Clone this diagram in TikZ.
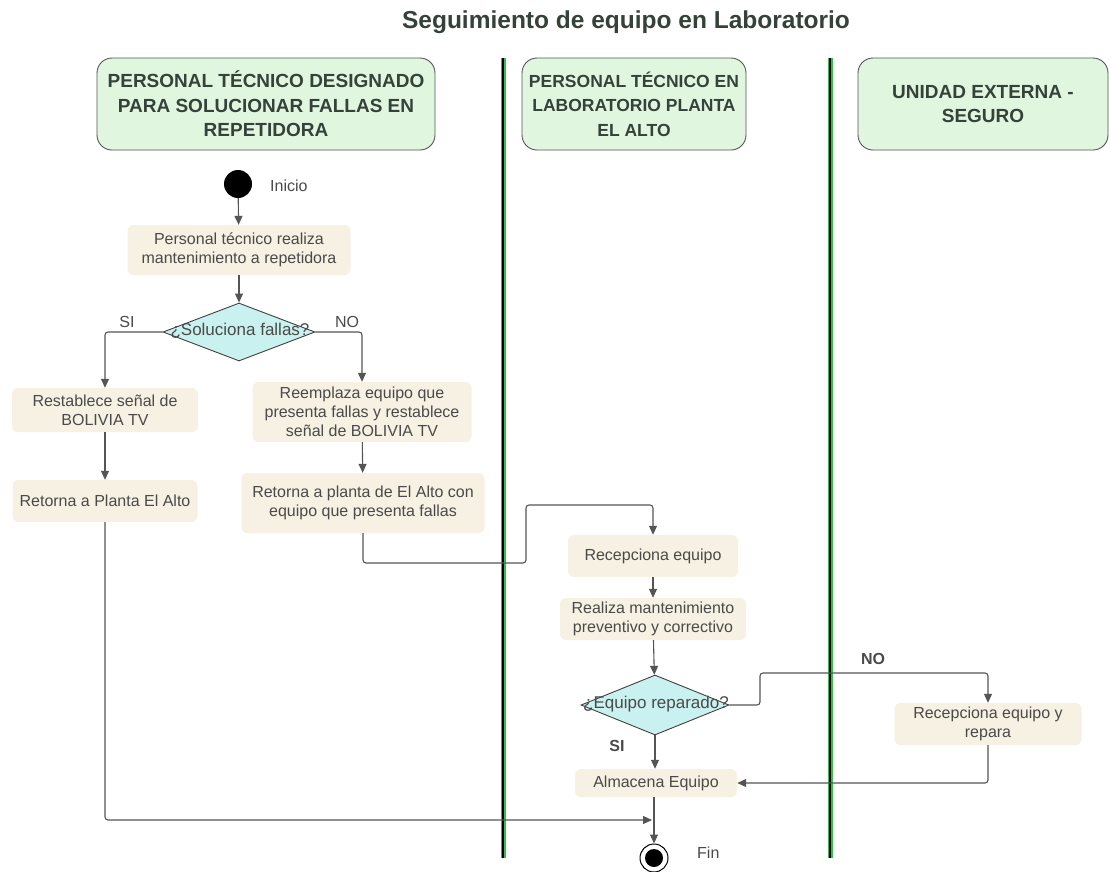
\documentclass[tikz,border=0pt]{standalone}
\usepackage{fontspec}
\setmainfont{Liberation Sans}
\usetikzlibrary{arrows.meta,shapes.geometric}
\definecolor{boxfill}{HTML}{F6F1E3}
\definecolor{headfill}{HTML}{E1F6DF}
\definecolor{decfill}{HTML}{C9F1EF}
\definecolor{txt}{HTML}{4A4A4A}
\definecolor{headtxt}{HTML}{34423A}
\definecolor{wire}{HTML}{555555}
\definecolor{lanegreen}{HTML}{3DBA4E}
\tikzset{
  act/.style={fill=boxfill, rounded corners=6pt, text=txt, align=center,
    font=\fontsize{16}{19}\selectfont, inner sep=0pt},
  lanehead/.style={fill=headfill, draw=wire, line width=0.9pt, rounded corners=15pt,
    text=headtxt, align=center, font=\bfseries\fontsize{19}{24.5}\selectfont, inner sep=0pt},
  decision/.style={diamond, fill=decfill, draw=black!75, line width=0.9pt,
    inner sep=0pt},
  dectext/.style={text=txt, font=\fontsize{17}{20}\selectfont, inner sep=0pt},
  flow/.style={draw=wire, line width=1.1pt, rounded corners=3pt,
    -{Triangle[length=9pt,width=8pt]}},
  lbl/.style={text=txt, font=\fontsize{16}{19}\selectfont, inner sep=0pt},
  blbl/.style={text=txt, font=\bfseries\fontsize{16}{19}\selectfont, inner sep=0pt},
}
\begin{document}
\begin{tikzpicture}[x=1pt,y=-1pt]
\useasboundingbox (0,0) rectangle (1111,871);
\fill[white] (0,0) rectangle (1111,871);

% title
\node[text=headtxt, font=\bfseries\fontsize{24.5}{28}\selectfont] (title) at (626,22) {Seguimiento de equipo en Laboratorio};

% lane separators
\foreach \lx in {503, 830}{
  \draw[lanegreen, line width=5pt] (\lx,58) -- (\lx,858);
  \draw[black, line width=2.6pt] (\lx,58) -- (\lx,858);
}

% lane headers
\node[lanehead, minimum width=338pt, minimum height=92pt] (h1) at (266,104)
  {PERSONAL TÉCNICO DESIGNADO\\PARA SOLUCIONAR FALLAS EN\\REPETIDORA};
\node[lanehead, minimum width=224pt, minimum height=92pt, font=\bfseries\fontsize{17.5}{24.5}\selectfont] (h2) at (634,104)
  {PERSONAL TÉCNICO EN\\LABORATORIO PLANTA\\EL ALTO};
\node[lanehead, minimum width=250pt, minimum height=92pt] (h3) at (983,104)
  {UNIDAD EXTERNA -\\SEGURO};

% start
\node[circle, fill=black, minimum size=28pt, inner sep=0pt] (start) at (238,184) {};
\node[lbl, anchor=west] (startlbl) at (270,186) {Inicio};

% first lane
\node[act, minimum width=223pt, minimum height=50pt] (b1) at (239,250)
  {Personal técnico realiza\\mantenimiento a repetidora};
\node[decision, minimum width=152pt, minimum height=58pt] (d1) at (239,332) {};
\node[dectext] (d1t) at (240,331) {¿Soluciona fallas?};
\node[lbl] (si1) at (127,322) {SI};
\node[lbl] (no1) at (347,322) {NO};
\node[act, minimum width=186pt, minimum height=44pt] (b2) at (105,410)
  {Restablece señal de\\BOLIVIA TV};
\node[act, minimum width=185pt, minimum height=42pt] (b3) at (105,501)
  {Retorna a Planta El Alto};
\node[act, minimum width=219pt, minimum height=60pt] (b4) at (362,412)
  {Reemplaza equipo que\\presenta fallas y restablece\\señal de BOLIVIA TV};
\node[act, minimum width=243pt, minimum height=60pt] (b5) at (363,503)
  {Retorna a planta de El Alto con\\equipo que presenta fallas};

% second lane
\node[act, minimum width=170pt, minimum height=42pt] (c1) at (653,556) {Recepciona equipo};
\node[act, minimum width=186pt, minimum height=42pt] (c2) at (653,619)
  {Realiza mantenimiento\\preventivo y correctivo};
\node[decision, minimum width=148pt, minimum height=60pt] (d2) at (655,705) {};
\node[dectext] (d2t) at (656,704) {¿Equipo reparado?};
\node[blbl] (si2) at (617,746) {SI};
\node[act, minimum width=162pt, minimum height=28pt] (c4) at (656,783) {Almacena Equipo};
\node[circle, draw=black, line width=1pt, minimum size=28pt, inner sep=0pt] (fin) at (654,858) {};
\fill[black] (fin.center) circle (9pt);
\node[lbl, anchor=west] (finlbl) at (697,853) {Fin};

% third lane
\node[blbl] (no2) at (873,659) {NO};
\node[act, minimum width=187pt, minimum height=42pt] (e1) at (988,724)
  {Recepciona equipo y\\repara};

% junction points
\coordinate (jA) at (526,563);
\coordinate (jB) at (526,505);
\coordinate (jC) at (760,673);
\coordinate (jD) at (652,820);

% connectors
\draw[flow] (start) -- (b1);
\draw[flow] (b1) -- (d1);
\draw[flow] (d1.west) -| (b2.north);
\draw[flow] (d1.east) -| (b4.north);
\draw[flow] (b2) -- (b3);
\draw[flow] (b4) -- (b5);
\draw[flow] (b5.south) |- (jA) -- (jB) -| (c1.north);
\draw[flow] (b3.south) |- (jD);
\draw[flow] (c1) -- (c2);
\draw[flow] (c2) -- (d2);
\draw[flow] (d2.south) -- (d2.south |- c4.north);
\draw[flow] (d2.east) -| (jC) -| (e1.north);
\draw[flow] (e1.south) |- (c4.east);
\draw[flow] (c4.south -| fin.north) -- (fin.north);
\end{tikzpicture}
\end{document}
